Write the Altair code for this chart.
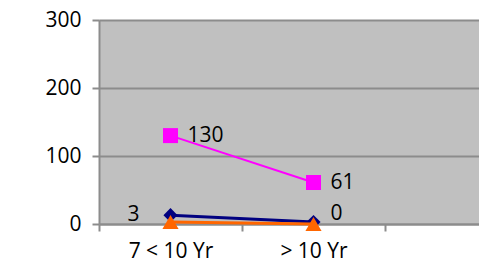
import altair as alt
import pandas as pd

categories = ["7 < 10 Yr", "> 10 Yr"]
series_names = ["pink", "navy", "orange"]
pink_values = [130, 61]
navy_values = [13, 3]
orange_values = [3, 0]

rows = []
for name, vals in zip(series_names, [pink_values, navy_values, orange_values]):
    for i, (c, v) in enumerate(zip(categories, vals)):
        rows.append({"series": name, "category": c, "pos": i + 0.5, "value": v})
df = pd.DataFrame(rows)

FONT = "Open Sans"
FS = 21

label_expr = " : ".join(
    [f"datum.value == {i + 0.5} ? '{c}'" for i, c in enumerate(categories)]
) + " : ''"

W = 380
x_enc = alt.X(
    "pos:Q",
    scale=alt.Scale(domain=[0, W / 143.0], nice=False, zero=False),
    axis=alt.Axis(
        values=[0, 0.5, 1, 1.5, 2],
        labelExpr=label_expr,
        title=None,
        grid=False,
        domainColor="#8c8c8c",
        domainWidth=2,
        tickColor={"condition": {"test": "datum.value % 1 == 0", "value": "#8c8c8c"}, "value": "transparent"},
        tickWidth=2,
        tickSize=7,
        labelPadding=9,
        labelFont=FONT,
        labelFontSize=FS,
        labelColor="#000000",
        labelFlush=False,
        labelOverlap=False,
    ),
)
y_enc = alt.Y(
    "value:Q",
    scale=alt.Scale(domain=[0, 300], nice=False),
    axis=alt.Axis(
        values=[0, 100, 200, 300],
        title=None,
        grid=True,
        gridColor="#8c8c8c",
        gridWidth=2,
        domainColor="#8c8c8c",
        domainWidth=2,
        tickColor="#8c8c8c",
        tickWidth=2,
        tickSize=7,
        labelPadding=11,
        labelFont=FONT,
        labelFontSize=FS,
        labelColor="#000000",
        labelFlush=False,
    ),
)

base = alt.Chart(df).encode(x=x_enc, y=y_enc)

def series_layers(name, color, shape, size, width):
    d = base.transform_filter(alt.datum.series == name)
    line = d.mark_line(color=color, strokeWidth=width, clip=False)
    pts = d.mark_point(shape=shape, size=size, filled=True, color=color, opacity=1, clip=False)
    return [line, pts]

layers = []
layers += series_layers("pink", "#ff00ff", "square", 225, 2)
layers += series_layers("navy", "#000080", "diamond", 200, 3)
layers += series_layers("orange", "#ff6600", "triangle-up", 260, 3)

pink_text = base.transform_filter(alt.datum.series == "pink").mark_text(
    align="left", baseline="middle", dx=17, font=FONT, fontSize=FS, color="#000000"
).encode(text="value:Q")
orange_text_1 = base.transform_filter(
    (alt.datum.series == "orange") & (alt.datum.category == categories[0])
).mark_text(
    align="right", baseline="middle", dx=-31, dy=-7, font=FONT, fontSize=FS, color="#000000"
).encode(text="value:Q")
orange_text_2 = base.transform_filter(
    (alt.datum.series == "orange") & (alt.datum.category == categories[1])
).mark_text(
    align="left", baseline="middle", dx=17, dy=-10, font=FONT, fontSize=FS, color="#000000"
).encode(text="value:Q")

chart = alt.layer(*layers, pink_text, orange_text_1, orange_text_2).properties(
    width=W,
    height=204,
    autosize=alt.AutoSizeParams(type="none"),
    padding={"left": 91, "top": 12, "right": 0, "bottom": 38},
    background="#ffffff",
).configure_view(fill="#c0c0c0", stroke=None)

chart.save("out.html", embed_options={"renderer": "svg", "actions": False})
